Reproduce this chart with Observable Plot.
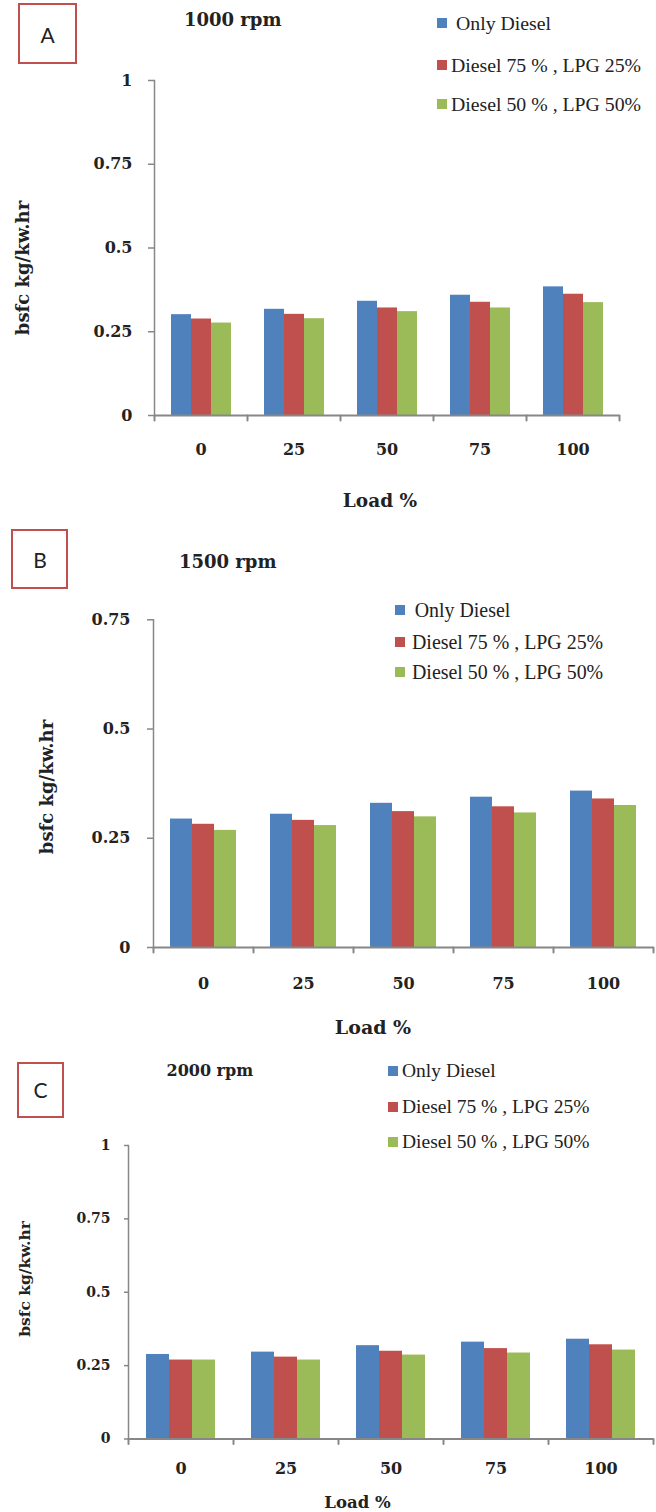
<!DOCTYPE html>
<html>
<head>
<meta charset="utf-8">
<script src="https://cdn.jsdelivr.net/npm/d3@7"></script>
<script src="https://cdn.jsdelivr.net/npm/@observablehq/plot@0.6"></script>
<style>
  html, body { margin: 0; padding: 0; background: #fff; }
  #root { position: relative; width: 656px; height: 1512px; overflow: hidden; background: #fff; }
  .panel { position: absolute; left: 0; }
  .txt { position: absolute; white-space: nowrap; line-height: 0; color: #222; }
  .box { position: absolute; box-sizing: border-box; border: 2px solid #c0504d; background: #fff; }
  .sw { position: absolute; width: 10px; height: 10px; }
</style>
</head>
<body>
<div id="root"></div>
<script>
// ---------------- data ----------------
const loads = ["0", "25", "50", "75", "100"];
const seriesNames = ["Only Diesel", "Diesel 75 % , LPG 25%", "Diesel 50 % , LPG 50%"];
const seriesColors = ["#4f81bd", "#c0504d", "#9bbb59"];

// Panel A – 1000 rpm (bsfc kg/kw.hr)
const onlyDiesel1000 = [0.301, 0.317, 0.341, 0.359, 0.384];
const d75lpg25_1000  = [0.288, 0.302, 0.321, 0.338, 0.362];
const d50lpg50_1000  = [0.276, 0.289, 0.310, 0.321, 0.337];

// Panel B – 1500 rpm
const onlyDiesel1500 = [0.294, 0.305, 0.330, 0.344, 0.358];
const d75lpg25_1500  = [0.282, 0.291, 0.311, 0.322, 0.340];
const d50lpg50_1500  = [0.268, 0.279, 0.299, 0.308, 0.325];

// Panel C – 2000 rpm
const onlyDiesel2000 = [0.288, 0.296, 0.318, 0.330, 0.340];
const d75lpg25_2000  = [0.269, 0.279, 0.299, 0.308, 0.321];
const d50lpg50_2000  = [0.269, 0.269, 0.286, 0.293, 0.303];

const yTicksFull = [0, 0.25, 0.5, 0.75, 1];
const yTicksB = [0, 0.25, 0.5, 0.75];
const panelLetters = ["A", "B", "C"];
const panelTitles = ["1000 rpm", "1500 rpm", "2000 rpm"];
const yLabel = "bsfc kg/kw.hr";
const xLabel = "Load %";

// ---------------- layout (styles / positions) ----------------
const axisColor = "#878787";
const textColor = "#222";
const serif = "'DejaVu Serif', serif";
const legendFont = "'Liberation Serif', serif";

const layouts = [
  { values: [onlyDiesel1000, d75lpg25_1000, d50lpg50_1000], yDomain: [0, 1], yTicks: yTicksFull,
    top: 0, height: 520, mt: 80, mb: 105, ml: 153, mr: 36,
    tickFont: 16, tickSize: 6, tickPad: 16, fxPad: 28, fxFont: 16,
    box: [18, 3, 59, 61], boxLetter: [47.5, 35], title: [184, 20, 18],
    legend: { sq: 437, text: [456, 451, 451], rows: [22.7, 65, 104], font: 19.8 },
    xlab: [380, 500.7, 18.5], ylab: [22.7, 267.5, 18] },
  { values: [onlyDiesel1500, d75lpg25_1500, d50lpg50_1500], yDomain: [0, 0.75], yTicks: yTicksB,
    top: 520, height: 520, mt: 99.3, mb: 93, ml: 151, mr: 2,
    tickFont: 16, tickSize: 6, tickPad: 17, fxPad: 30, fxFont: 16,
    box: [11, 529, 57, 60], boxLetter: [40, 560], title: [179, 561.7, 18],
    legend: { sq: 395, text: [414.7, 412, 412], rows: [610, 641.7, 671.7], font: 19.9 },
    xlab: [373, 1027, 19], ylab: [46.7, 787, 18] },
  { values: [onlyDiesel2000, d75lpg25_2000, d50lpg50_2000], yDomain: [0, 1], yTicks: yTicksFull,
    top: 1040, height: 472, mt: 105, mb: 73.5, ml: 126, mr: 2,
    tickFont: 14, tickSize: 4, tickPad: 14, fxPad: 24, fxFont: 16,
    box: [17, 1062, 47, 56], boxLetter: [40.5, 1090], title: [166.5, 1070.7, 16],
    legend: { sq: 388, text: [402, 402, 402], rows: [1070.7, 1106.7, 1141.7], font: 19.5 },
    xlab: [357.5, 1503, 16.5], ylab: [25, 1279, 15.5] }
];

const root = document.getElementById("root");

function addText(str, x, y, css, anchor = "start", rotate = 0) {
  const d = document.createElement("div");
  d.className = "txt";
  d.textContent = str;
  d.style.left = x + "px";
  d.style.top = y + "px";
  Object.assign(d.style, css);
  let t = "";
  if (anchor === "middle") t += "translateX(-50%) ";
  if (rotate) t += `rotate(${rotate}deg)`;
  if (t) d.style.transform = t;
  root.appendChild(d);
  return d;
}

const tickShape = {
  draw(context, l) { context.moveTo(0, 0); context.lineTo(0, -l); }
};

layouts.forEach((L, pi) => {
  const rows = [];
  loads.forEach((load, i) => {
    seriesNames.forEach((s, j) => rows.push({ load, series: s, value: L.values[j][i] }));
  });

  const chart = Plot.plot({
    width: 656,
    height: L.height,
    marginTop: L.mt,
    marginBottom: L.mb,
    marginLeft: L.ml,
    marginRight: L.mr,
    style: { fontFamily: serif, fontWeight: "bold", color: textColor, background: "transparent" },
    fx: { domain: loads, padding: 0, paddingInner: 0, paddingOuter: 0 },
    x: { domain: seriesNames, paddingInner: 0, paddingOuter: 0.75, axis: null },
    y: { domain: L.yDomain },
    color: { domain: seriesNames, range: seriesColors },
    marks: [
      Plot.barY(rows, { fx: "load", x: "series", y: "value", fill: "series" }),
      Plot.ruleY([0], { stroke: axisColor, strokeWidth: 2 }),
      Plot.frame({ anchor: "left", stroke: axisColor, strokeWidth: 1.5, facetAnchor: "left" }),
      Plot.vector(loads.map(l => ({ load: l })), {
        fx: "load", frameAnchor: "bottom-left", length: 5, rotate: 180, anchor: "start",
        shape: tickShape, stroke: axisColor, strokeWidth: 2
      }),
      Plot.vector([{ load: loads[loads.length - 1] }], {
        fx: "load", frameAnchor: "bottom-right", length: 5, rotate: 180, anchor: "start",
        shape: tickShape, stroke: axisColor, strokeWidth: 2
      }),
      Plot.axisY({
        ticks: L.yTicks, tickFormat: d3.format(""), tickSize: L.tickSize, tickPadding: L.tickPad,
        stroke: axisColor, strokeWidth: 1.5, fill: textColor, fontSize: L.tickFont, fontWeight: "bold",
        label: null
      }),
      Plot.axisFx({
        anchor: "bottom", tickSize: 0, tickPadding: L.fxPad, fontSize: L.fxFont, fontWeight: "bold",
        fill: textColor, label: null
      })
    ]
  });
  const wrap = document.createElement("div");
  wrap.className = "panel";
  wrap.style.top = L.top + "px";
  wrap.appendChild(chart);
  root.appendChild(wrap);

  // panel letter box
  const b = document.createElement("div");
  b.className = "box";
  Object.assign(b.style, { left: L.box[0] + "px", top: L.box[1] + "px", width: L.box[2] + "px", height: L.box[3] + "px" });
  root.appendChild(b);
  addText(panelLetters[pi], L.boxLetter[0], L.boxLetter[1], { fontFamily: "Lato, sans-serif", fontSize: "21px" }, "middle");

  // title
  addText(panelTitles[pi], L.title[0], L.title[1], { fontFamily: serif, fontWeight: "bold", fontSize: L.title[2] + "px" });

  // legend
  seriesNames.forEach((s, j) => {
    const sq = document.createElement("div");
    sq.className = "sw";
    Object.assign(sq.style, { left: L.legend.sq + "px", top: (L.legend.rows[j] - 5) + "px", background: seriesColors[j] });
    root.appendChild(sq);
    addText(s, L.legend.text[j], L.legend.rows[j], { fontFamily: legendFont, fontSize: L.legend.font + "px" });
  });

  // axis titles
  addText(xLabel, L.xlab[0], L.xlab[1], { fontFamily: serif, fontWeight: "bold", fontSize: L.xlab[2] + "px" }, "middle");
  addText(yLabel, L.ylab[0], L.ylab[1], { fontFamily: serif, fontWeight: "bold", fontSize: L.ylab[2] + "px" }, "middle", -90);
});
</script>
</body>
</html>
